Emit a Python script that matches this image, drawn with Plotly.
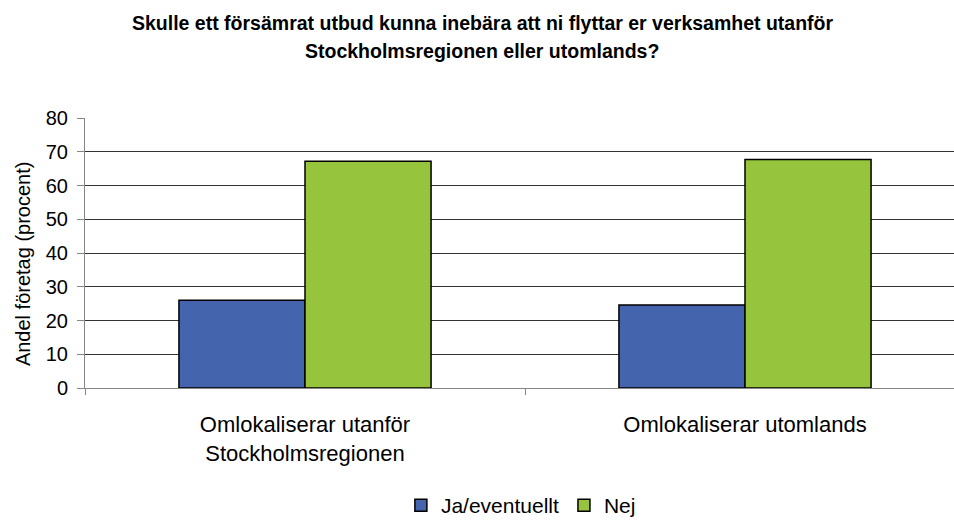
import plotly.graph_objects as go

# Survey answers, share of companies in percent
categories = ["Omlokaliserar utanför<br>Stockholmsregionen", "Omlokaliserar utomlands"]
series_names = ["Ja/eventuellt", "Nej"]
ja_values = [26.0, 24.6]
nej_values = [67.2, 67.7]
y_ticks = [0, 10, 20, 30, 40, 50, 60, 70, 80]
y_title = "Andel företag (procent)"

title_lines = [
    "Skulle ett försämrat utbud kunna inebära att ni flyttar er verksamhet utanför",
    "Stockholmsregionen eller utomlands?",
]

colors = ["#4465AE", "#96C43D"]
base_font = "Liberation Sans, Arial, sans-serif"

fig = go.Figure()
for name, vals, col in zip(series_names, [ja_values, nej_values], colors):
    fig.add_trace(go.Bar(
        name=name,
        x=categories,
        y=vals,
        marker=dict(color=col, line=dict(color="#000000", width=1.5)),
    ))

fig.update_layout(
    width=954,
    height=526,
    autosize=False,
    margin=dict(l=85, r=0, t=118, b=138),
    paper_bgcolor="white",
    plot_bgcolor="white",
    barmode="group",
    bargap=0.427,
    bargroupgap=0,
    font=dict(family=base_font, color="#000000"),
    showlegend=True,
    legend=dict(
        orientation="h",
        xref="container", yref="container",
        x=0.546, xanchor="center",
        y=-0.014, yanchor="bottom",
        font=dict(size=21, family=base_font),
        itemwidth=30,
        tracegroupgap=0,
    ),
)

fig.update_xaxes(
    range=[-0.5, 1.475],
    showline=True, linecolor="#868686", linewidth=1,
    ticks="outside", tickson="boundaries", ticklen=6, tickcolor="#868686",
    showgrid=False,
    tickfont=dict(size=22, family=base_font),
    ticklabelstandoff=17,
)

fig.update_yaxes(
    range=[0, 80],
    tickvals=y_ticks,
    showline=True, linecolor="#868686", linewidth=1,
    ticks="outside", ticklen=7, tickcolor="#868686",
    showgrid=True, gridcolor="#333333", gridwidth=1,
    zeroline=False,
    tickfont=dict(size=20, family=base_font),
    ticklabelstandoff=5,
)

# Vertical axis caption, set slightly below the middle of the plot area
fig.add_annotation(
    text=y_title,
    xref="paper", yref="paper",
    x=-0.0713, y=0.459,
    xanchor="center", yanchor="middle",
    textangle=-90,
    showarrow=False,
    font=dict(size=20, family=base_font, color="#000000"),
)

# Two-line heading placed above the plot area
for line, ypos in zip(title_lines, [1.3527, 1.2493]):
    fig.add_annotation(
        text=f"<b>{line}</b>",
        xref="paper", yref="paper",
        x=(482 - 85) / 869, y=ypos,
        xanchor="center", yanchor="middle",
        showarrow=False,
        font=dict(size=19.5, family=base_font, color="#000000"),
    )

fig.write_html("out.html")
